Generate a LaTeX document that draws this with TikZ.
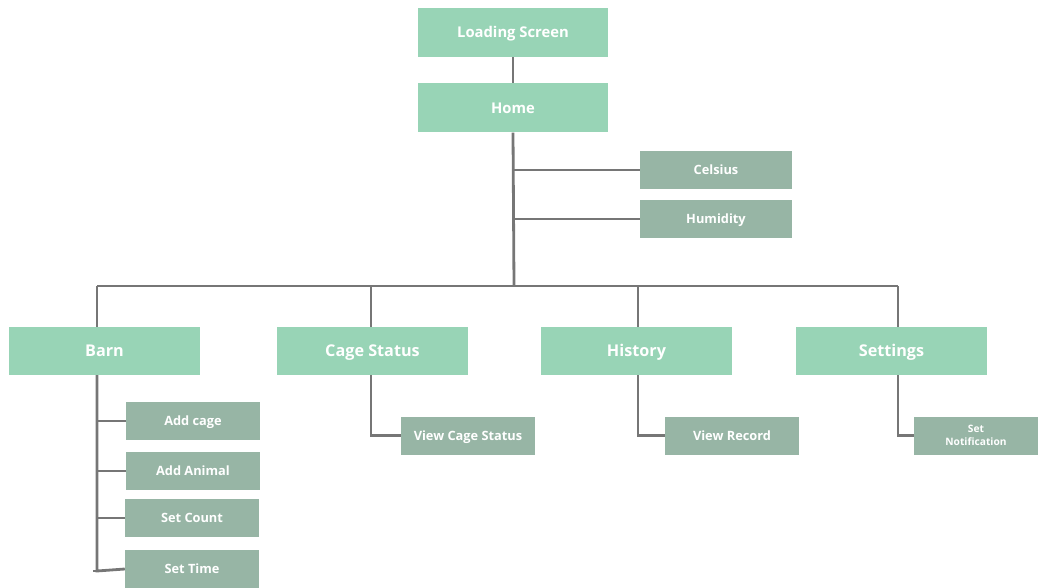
\documentclass[tikz,border=0pt]{standalone}
\usepackage{fontspec}
\setmainfont{Open Sans}
\definecolor{topgreen}{RGB}{152,212,182}
\definecolor{subgreen}{RGB}{151,181,165}
\definecolor{linegray}{RGB}{118,118,118}
\tikzset{
  boxbase/.style={text=white, inner sep=0pt, text depth=0pt},
  topbox/.style={boxbase, fill=topgreen, font=\bfseries\fontsize{14.8}{17}\selectfont, text height=10.6pt, minimum width=190pt, minimum height=49pt},
  secbox/.style={boxbase, fill=topgreen, font=\bfseries\fontsize{16.2}{19}\selectfont, text height=11.6pt, minimum width=191pt, minimum height=48pt},
  subbox/.style={boxbase, fill=subgreen, font=\bfseries\fontsize{12.8}{15}\selectfont, text height=9.1pt, minimum width=134pt, minimum height=38pt},
  conn/.style={draw=linegray, line width=2.8pt}
}
\begin{document}
\begin{tikzpicture}[x=1pt,y=-1pt]
\useasboundingbox (0,0) rectangle (1038,588);
% top
\node[topbox] (load) at (513,32.5) {Loading Screen};
\node[topbox] (home) at (513,108) {Home};
\node[subbox, minimum width=152pt] (cel) at (716,170) {Celsius};
\node[subbox, minimum width=152pt] (hum) at (716,219) {Humidity};
% sections
\node[secbox] (barn) at (104.5,351) {Barn};
\node[secbox] (cage) at (372.5,351) {Cage Status};
\node[secbox] (hist) at (636.5,351) {History};
\node[secbox] (sett) at (891.5,351) {Settings};
% barn children
\node[subbox] (addcage) at (193,421) {Add cage};
\node[subbox] (addanimal) at (193,471) {Add Animal};
\node[subbox] (setcount) at (192,518) {Set Count};
\node[subbox] (settime) at (192,569) {Set Time};
% other children
\node[subbox] (viewcage) at (468,435.5) {View Cage Status};
\node[subbox] (viewrec) at (732,435.5) {View Record};
\node[fill=subgreen, text=white, inner sep=0pt, minimum width=124pt, minimum height=38pt, font=\bfseries\fontsize{10.2}{13}\selectfont, align=center] (setnot) at (976,435.5) {Set\\Notification};
% coordinates
\coordinate (bus) at (514,286);
\coordinate (busL) at (97,286);
\coordinate (busR) at (898,286);
\coordinate (bend) at (97,571);
% connectors
\draw[conn] (load.south) -- (home.north);
\draw[conn] (home.south) -- (bus);
\draw[conn] (bus |- cel.west) -- (cel.west);
\draw[conn] (bus |- hum.west) -- (hum.west);
\draw[conn] (busL) -- (busR);
\draw[conn] (busL) -- (busL |- barn.north);
\draw[conn] (cage.north -| 371,0) -- (371,286);
\draw[conn] (hist.north -| 638,0) -- (638,286);
\draw[conn] (sett.north -| busR) -- (busR);
% barn tree
\draw[conn] (barn.south -| busL) -- (bend) -- (settime.west);
\draw[conn] (93,571) -- (bend);
\draw[conn] (busL |- addcage.west) -- (addcage.west);
\draw[conn] (busL |- addanimal.west) -- (addanimal.west);
\draw[conn] (busL |- setcount.west) -- (setcount.west);
% other children
\draw[conn] (cage.south -| 371,0) |- (viewcage.west);
\draw[conn] (hist.south -| 638,0) |- (viewrec.west);
\draw[conn] (sett.south -| busR) |- (setnot.west);
\end{tikzpicture}
\end{document}
